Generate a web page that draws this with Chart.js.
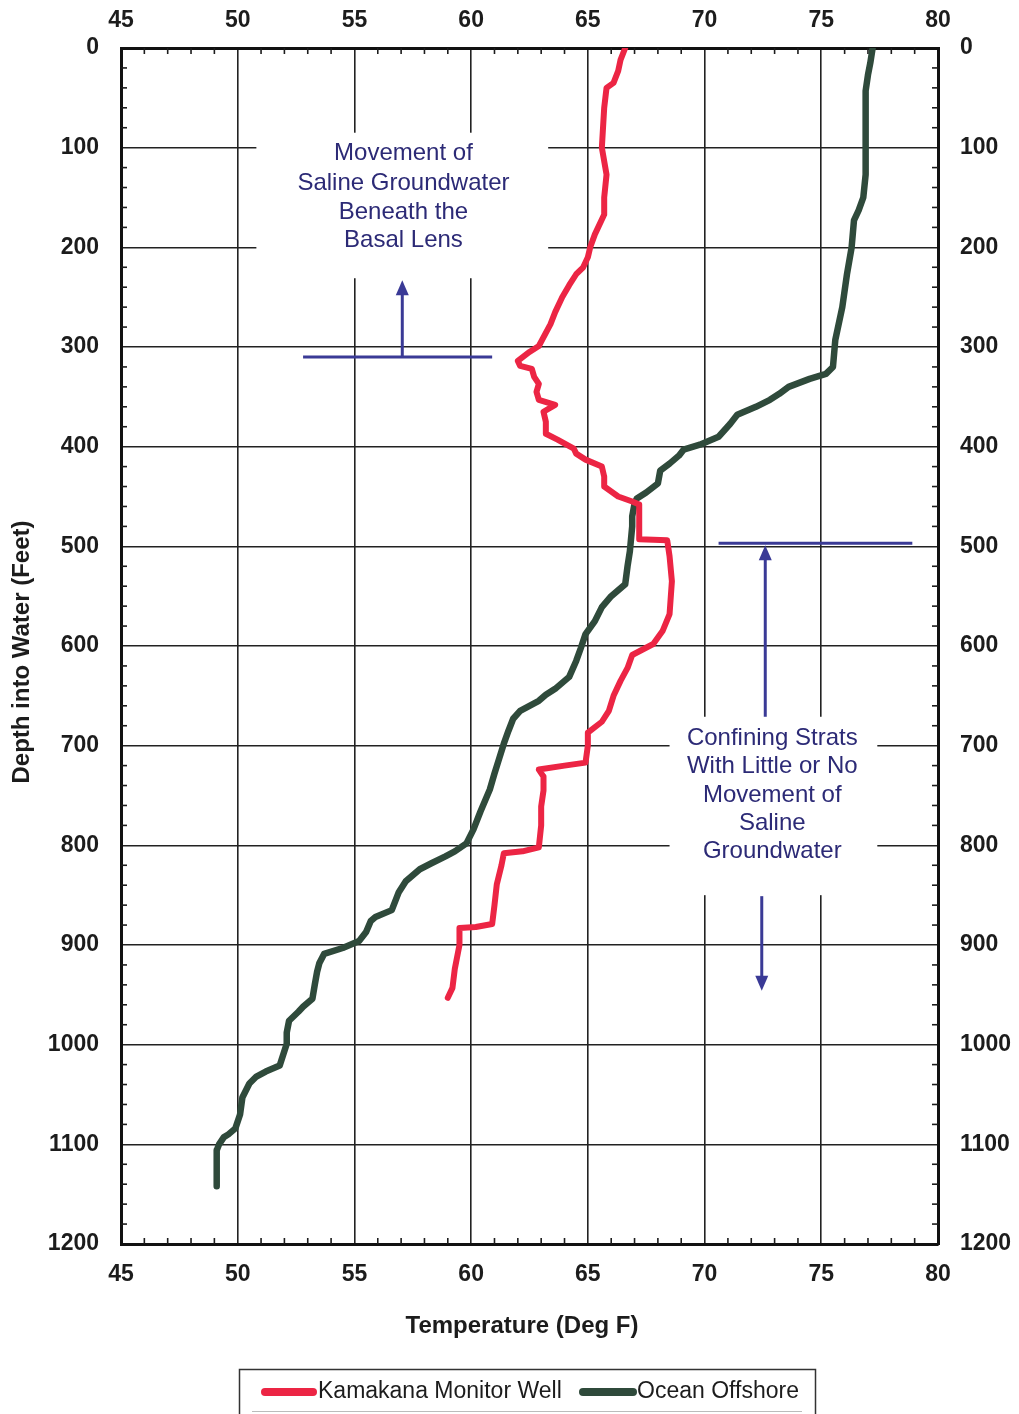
<!DOCTYPE html>
<html>
<head>
<meta charset="utf-8">
<title>Temperature vs Depth</title>
<script src="https://cdn.jsdelivr.net/npm/chart.js@4.4.1/dist/chart.umd.min.js"></script>
<style>
  html, body { margin: 0; padding: 0; background: #fff; }
  canvas { display: block; }
</style>
</head>
<body>
<canvas id="profileChart" width="1019" height="1414"></canvas>
<script>
  // Kamakana monitor well: depth (ft) and temperature (deg F)
  var wellDepth = [0, 12, 23, 35, 40, 60, 100, 127, 150, 167, 187, 200, 210, 220, 227, 238, 250, 265, 277, 299,
    305, 314, 319, 322, 330, 337, 345, 353, 358, 365, 375, 387, 393, 402, 407, 413, 420, 430, 440, 450,
    455, 458, 468, 480, 493, 494, 510, 535, 568, 585, 598, 609, 622, 635, 650, 665, 676, 687, 700, 717,
    720, 724, 731, 745, 761, 780, 802, 806, 808, 820, 839, 860, 879, 882, 883, 900, 924, 943, 953];
  var wellTemp = [66.6, 66.4, 66.3, 66.1, 65.8, 65.7, 65.6, 65.8, 65.7, 65.7, 65.3, 65.1, 65.0, 64.8, 64.5, 64.2, 63.9, 63.6, 63.4, 62.9,
    62.5, 62.0, 62.1, 62.6, 62.7, 62.9, 62.8, 62.9, 63.6, 63.1, 63.2, 63.2, 63.7, 64.4, 64.5, 64.9, 65.6, 65.7, 65.7, 66.3,
    66.9, 67.2, 67.2, 67.2, 67.2, 68.4, 68.5, 68.6, 68.5, 68.2, 67.8, 66.9, 66.7, 66.4, 66.1, 65.9, 65.6, 65.0, 65.0, 64.9,
    64.0, 62.9, 63.1, 63.1, 63.0, 63.0, 62.9, 62.2, 61.4, 61.3, 61.1, 61.0, 60.9, 60.2, 59.5, 59.5, 59.3, 59.2, 59.0];

  // ocean offshore: depth (ft) and temperature (deg F)
  var oceanDepth = [0, 15, 27, 43, 100, 127, 150, 163, 173, 200, 227, 260, 293, 320, 327, 332, 340, 347, 353, 360,
    368, 377, 390, 398, 403, 409, 417, 424, 437, 446, 452, 457, 470, 480, 505, 520, 538, 550, 561, 575,
    588, 602, 615, 631, 643, 649, 655, 665, 673, 685, 698, 713, 728, 744, 766, 784, 798, 806, 811, 818,
    824, 836, 847, 865, 872, 876, 887, 896, 903, 909, 918, 927, 940, 954, 962, 967, 976, 988, 999, 1021,
    1027, 1032, 1039, 1053, 1070, 1084, 1090, 1093, 1100, 1106, 1125, 1142];
  var oceanTemp = [77.2, 77.1, 77.0, 76.9, 76.9, 76.9, 76.8, 76.6, 76.4, 76.3, 76.1, 75.9, 75.6, 75.5, 75.2, 74.5, 73.6, 73.2, 72.8, 72.2,
    71.4, 71.1, 70.6, 69.8, 69.1, 68.9, 68.5, 68.1, 68.0, 67.5, 67.1, 67.0, 66.9, 66.9, 66.8, 66.7, 66.6, 66.0, 65.6, 65.3,
    64.9, 64.7, 64.5, 64.2, 63.6, 63.2, 62.9, 62.1, 61.8, 61.6, 61.4, 61.2, 61.0, 60.8, 60.4, 60.1, 59.8, 59.3, 58.9, 58.3,
    57.8, 57.2, 56.9, 56.6, 55.9, 55.7, 55.5, 55.2, 54.5, 53.7, 53.5, 53.4, 53.3, 53.2, 52.8, 52.6, 52.2, 52.1, 52.1, 51.8,
    51.2, 50.8, 50.5, 50.2, 50.1, 49.9, 49.6, 49.4, 49.2, 49.1, 49.1, 49.1];

  var seriesNames = ['Kamakana Monitor Well', 'Ocean Offshore'];
  var seriesColors = ['#ec2544', '#2f4a3b'];
  var tempTicks = [45, 50, 55, 60, 65, 70, 75, 80];
  var depthTicks = [0, 100, 200, 300, 400, 500, 600, 700, 800, 900, 1000, 1100, 1200];

  var fontFamily = '"Liberation Sans", Arial, sans-serif';
  var ink = '#1c1c1c';
  var noteInk = '#2c2a76';
  var noteLine = '#3a3a96';

  function toPoints(depths, temps) {
    return depths.map(function (d, i) { return { x: temps[i], y: d }; });
  }

  function setTicks(values) {
    return function (axis) {
      axis.ticks = values.map(function (v) { return { value: v }; });
    };
  }

  // plain numbers, no thousands separator
  function plain(v) { return String(v); }

  var tickFont = { family: fontFamily, size: 23, weight: 'bold' };

  // text blocks and arrows, placed in temperature / depth units
  var notes = [
    {
      box: [50.8, 63.3, 85, 231],
      x: 57.1,
      lines: ['Movement of', 'Saline Groundwater', 'Beneath the', 'Basal Lens'],
      rows: [106, 136, 165, 193]
    },
    {
      box: [68.5, 77.4, 671, 850],
      x: 72.9,
      lines: ['Confining Strats', 'With Little or No', 'Movement of', 'Saline', 'Groundwater'],
      rows: [693, 721, 750, 778, 806]
    }
  ];
  var markers = [
    { y: 310, from: 52.8, to: 60.9 },
    { y: 497, from: 70.6, to: 78.9 }
  ];
  var arrows = [
    { x: 57.05, from: 310, to: 233 },
    { x: 72.6, from: 671, to: 499 },
    { x: 72.45, from: 851, to: 946 }
  ];

  function line(ctx, x1, y1, x2, y2) {
    ctx.beginPath();
    ctx.moveTo(x1, y1);
    ctx.lineTo(x2, y2);
    ctx.stroke();
  }

  var decorations = {
    id: 'decorations',
    beforeDraw: function (chart) {
      var ctx = chart.ctx;
      ctx.save();
      ctx.fillStyle = '#fff';
      ctx.fillRect(0, 0, chart.width, chart.height);
      ctx.restore();
    },
    beforeDatasetsDraw: function (chart) {
      var ctx = chart.ctx, a = chart.chartArea;
      var xs = chart.scales.x, ys = chart.scales.y;
      var px = function (v) { return xs.getPixelForValue(v); };
      var py = function (v) { return ys.getPixelForValue(v); };
      ctx.save();

      // minor ticks, inside the frame
      ctx.strokeStyle = ink;
      ctx.lineWidth = 1.6;
      for (var t = 46; t < 80; t++) {
        if (t % 5 === 0) continue;
        line(ctx, px(t), a.top, px(t), a.top + 6);
        line(ctx, px(t), a.bottom, px(t), a.bottom - 6);
      }
      for (var d = 20; d < 1200; d += 20) {
        if (d % 100 === 0) continue;
        line(ctx, a.left, py(d), a.left + 6, py(d));
        line(ctx, a.right, py(d), a.right - 6, py(d));
      }

      // text blocks over a blank patch of the grid
      notes.forEach(function (n) {
        ctx.fillStyle = '#fff';
        ctx.fillRect(px(n.box[0]), py(n.box[2]), px(n.box[1]) - px(n.box[0]), py(n.box[3]) - py(n.box[2]));
        ctx.fillStyle = noteInk;
        ctx.font = '24px ' + fontFamily;
        ctx.textAlign = 'center';
        ctx.textBaseline = 'middle';
        n.lines.forEach(function (txt, i) {
          ctx.fillText(txt, px(n.x), py(n.rows[i]));
        });
      });

      ctx.strokeStyle = noteLine;
      ctx.fillStyle = noteLine;
      ctx.lineWidth = 3;
      markers.forEach(function (m) {
        line(ctx, px(m.from), py(m.y), px(m.to), py(m.y));
      });
      arrows.forEach(function (ar) {
        var x = px(ar.x), y1 = py(ar.from), y2 = py(ar.to);
        var dir = y2 < y1 ? 1 : -1;
        line(ctx, x, y1, x, y2 + dir * 10);
        ctx.beginPath();
        ctx.moveTo(x, y2);
        ctx.lineTo(x - 6.5, y2 + dir * 15);
        ctx.lineTo(x + 6.5, y2 + dir * 15);
        ctx.closePath();
        ctx.fill();
      });
      ctx.restore();
    },
    afterDraw: function (chart) {
      var ctx = chart.ctx;
      ctx.save();
      ctx.fillStyle = ink;
      ctx.font = 'bold 24px ' + fontFamily;
      ctx.textAlign = 'center';
      ctx.textBaseline = 'middle';
      ctx.fillText('Temperature (Deg F)', 522, 1326);

      ctx.translate(22, 652);
      ctx.rotate(-Math.PI / 2);
      ctx.fillText('Depth into Water (Feet)', 0, 0);
      ctx.restore();

      // legend
      ctx.save();
      ctx.strokeStyle = '#333';
      ctx.lineWidth = 1.5;
      ctx.strokeRect(239.5, 1369.5, 576, 60);
      ctx.strokeStyle = '#bbb';
      ctx.lineWidth = 1;
      line(ctx, 252, 1411.5, 802, 1411.5);

      var items = [
        { x0: 265, x1: 313, tx: 318 },
        { x0: 583, x1: 633, tx: 637 }
      ];
      ctx.font = '23px ' + fontFamily;
      ctx.textAlign = 'left';
      ctx.textBaseline = 'middle';
      ctx.lineCap = 'round';
      items.forEach(function (it, i) {
        ctx.strokeStyle = seriesColors[i];
        ctx.lineWidth = 8;
        line(ctx, it.x0, 1392, it.x1, 1392);
        ctx.fillStyle = ink;
        ctx.fillText(seriesNames[i], it.tx, 1392);
      });
      ctx.restore();
    }
  };

  var ctx = document.getElementById('profileChart').getContext('2d');
  var profileChart = new Chart(ctx, {
    type: 'scatter',
    data: {
      datasets: [{
        label: seriesNames[0],
        data: toPoints(wellDepth, wellTemp),
        borderColor: seriesColors[0],
        backgroundColor: seriesColors[0],
        showLine: true,
        borderWidth: 6,
        borderCapStyle: 'round',
        borderJoinStyle: 'round',
        pointRadius: 0,
        tension: 0
      }, {
        label: seriesNames[1],
        data: toPoints(oceanDepth, oceanTemp),
        borderColor: seriesColors[1],
        backgroundColor: seriesColors[1],
        showLine: true,
        borderWidth: 6.5,
        borderCapStyle: 'round',
        borderJoinStyle: 'round',
        pointRadius: 0,
        tension: 0
      }]
    },
    options: {
      responsive: false,
      animation: false,
      devicePixelRatio: 1,
      layout: { padding: 0 },
      plugins: {
        legend: { display: false },
        tooltip: { enabled: false }
      },
      scales: {
        x: {
          type: 'linear',
          position: 'bottom',
          min: 45,
          max: 80,
          afterBuildTicks: setTicks(tempTicks),
          afterFit: function (s) { s.height = 170; },
          grid: { color: '#222', lineWidth: 1.6, drawTicks: false },
          border: { color: '#111', width: 3 },
          ticks: { font: tickFont, color: ink, padding: 17, maxRotation: 0, callback: plain }
        },
        x2: {
          type: 'linear',
          position: 'top',
          min: 45,
          max: 80,
          afterBuildTicks: setTicks(tempTicks),
          afterFit: function (s) { s.height = 48; },
          grid: { display: false, drawTicks: false },
          border: { color: '#111', width: 3 },
          ticks: { font: tickFont, color: ink, padding: 14, maxRotation: 0, callback: plain }
        },
        y: {
          type: 'linear',
          position: 'left',
          reverse: true,
          min: 0,
          max: 1200,
          afterBuildTicks: setTicks(depthTicks),
          afterFit: function (s) { s.width = 121; },
          grid: { color: '#222', lineWidth: 1.6, drawTicks: false },
          border: { color: '#111', width: 3 },
          ticks: { font: tickFont, color: ink, padding: 22, callback: plain }
        },
        y2: {
          type: 'linear',
          position: 'right',
          reverse: true,
          min: 0,
          max: 1200,
          afterBuildTicks: setTicks(depthTicks),
          afterFit: function (s) { s.width = 81; },
          grid: { display: false, drawTicks: false },
          border: { color: '#111', width: 3 },
          ticks: { font: tickFont, color: ink, padding: 22, callback: plain }
        }
      }
    },
    plugins: [decorations]
  });
</script>
</body>
</html>
